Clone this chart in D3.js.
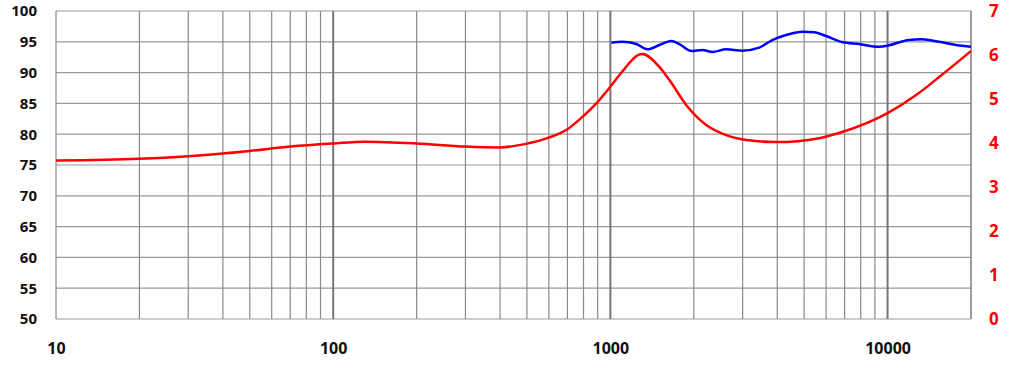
<!DOCTYPE html>
<html>
<head>
<meta charset="utf-8">
<script src="https://cdnjs.cloudflare.com/ajax/libs/d3/7.8.5/d3.min.js"></script>
<style>
  body { margin: 0; background: #fff; }
  text { font-family: "Open Sans", sans-serif; font-weight: 700; }
</style>
</head>
<body>
<script>
// SPL curve (dB, left axis)
var splFreq = [1008, 1104, 1241, 1360, 1502, 1660, 1774, 1960, 2148, 2337, 2618, 2992, 3444, 3837, 4307, 4919, 5433, 5998, 6855, 7888, 9310, 10115, 11940, 13300, 15340, 17660, 20000];
var splDb   = [94.85, 95.0, 94.64, 93.78, 94.48, 95.13, 94.64, 93.5, 93.67, 93.34, 93.78, 93.56, 94.05, 95.29, 96.1, 96.64, 96.54, 95.94, 94.97, 94.64, 94.2, 94.43, 95.3, 95.4, 95.0, 94.48, 94.2];

// impedance curve (ohm, right axis)
var impFreq = [10, 20, 30, 50, 70, 100, 130, 200, 300, 400, 495, 592, 695, 795, 890, 1000, 1080, 1303, 1502, 1633, 1880, 2219, 2618, 3092, 3963, 5662, 6855, 10000, 12680, 15710, 20000];
var impOhm  = [3.60, 3.64, 3.70, 3.82, 3.92, 3.99, 4.03, 3.99, 3.92, 3.90, 3.98, 4.11, 4.30, 4.60, 4.90, 5.28, 5.55, 6.02, 5.73, 5.43, 4.86, 4.41, 4.18, 4.07, 4.02, 4.11, 4.25, 4.68, 5.09, 5.55, 6.09];

var xTicks = [10, 100, 1000, 10000];
var yLeftTicks = d3.range(50, 101, 5);
var yRightTicks = d3.range(0, 8, 1);
var gridFreqs = [];
[10, 100, 1000, 10000].forEach(function(d) {
    for (var k = 1; k < 10; k++) if (d * k <= 20000) gridFreqs.push(d * k);
});
gridFreqs.push(20000);

var width = 1024, height = 368;
var svg = d3.select("body").append("svg")
    .attr("width", width)
    .attr("height", height);

var x = d3.scaleLog().domain([10, 20000]).range([56, 971]);
var yL = d3.scaleLinear().domain([50, 100]).range([319, 11]);
var yR = d3.scaleLinear().domain([0, 7]).range([319, 11]);

// grid
svg.append("g").selectAll("line")
    .data(yLeftTicks)
    .enter().append("line")
    .attr("x1", 56).attr("x2", 971)
    .attr("y1", function(d) { return yL(d); })
    .attr("y2", function(d) { return yL(d); })
    .attr("stroke", "#999").attr("stroke-width", 1.2);

svg.append("g").selectAll("line")
    .data(gridFreqs)
    .enter().append("line")
    .attr("x1", function(d) { return x(d); })
    .attr("x2", function(d) { return x(d); })
    .attr("y1", 11).attr("y2", 319)
    .attr("stroke", function(d) { return xTicks.indexOf(d) >= 0 && d > 10 ? "#777" : "#8a8a8a"; })
    .attr("stroke-width", function(d) { return xTicks.indexOf(d) >= 0 && d > 10 ? 2 : 1.2; });

// axis labels
var axL = d3.axisLeft(yL).tickValues(yLeftTicks).tickSize(0).tickPadding(19);
svg.append("g").attr("transform", "translate(56,0)").call(axL)
    .call(function(g) { g.select(".domain").remove(); })
    .selectAll("text").attr("font-size", 15).attr("fill", "#111")
    .style("font-family", "'Open Sans', sans-serif").style("font-weight", 700);

var axR = d3.axisRight(yR).tickValues(yRightTicks).tickFormat(d3.format("d")).tickSize(0).tickPadding(18);
svg.append("g").attr("transform", "translate(971,0)").call(axR)
    .call(function(g) { g.select(".domain").remove(); })
    .selectAll("text").attr("font-size", 17).attr("fill", "#ff0000")
    .style("font-family", "'Open Sans', sans-serif").style("font-weight", 700);

var axB = d3.axisBottom(x).tickValues(xTicks).tickFormat(d3.format("d")).tickSize(0).tickPadding(24);
svg.append("g").attr("transform", "translate(0,319)").call(axB)
    .call(function(g) { g.select(".domain").remove(); })
    .selectAll("text").attr("font-size", 16).attr("fill", "#111")
    .style("font-family", "'Open Sans', sans-serif").style("font-weight", 700);

// curves
var impLine = d3.line()
    .x(function(d, i) { return x(impFreq[i]); })
    .y(function(d) { return yR(d); })
    .curve(d3.curveMonotoneX);

var splLine = d3.line()
    .x(function(d, i) { return x(splFreq[i]); })
    .y(function(d) { return yL(d); })
    .curve(d3.curveMonotoneX);

svg.append("path")
    .attr("d", impLine(impOhm))
    .attr("fill", "none")
    .attr("stroke", "#ff0000")
    .attr("stroke-width", 2.5);

svg.append("path")
    .attr("d", splLine(splDb))
    .attr("fill", "none")
    .attr("stroke", "#0000ff")
    .attr("stroke-width", 2.5);
</script>
</body>
</html>
